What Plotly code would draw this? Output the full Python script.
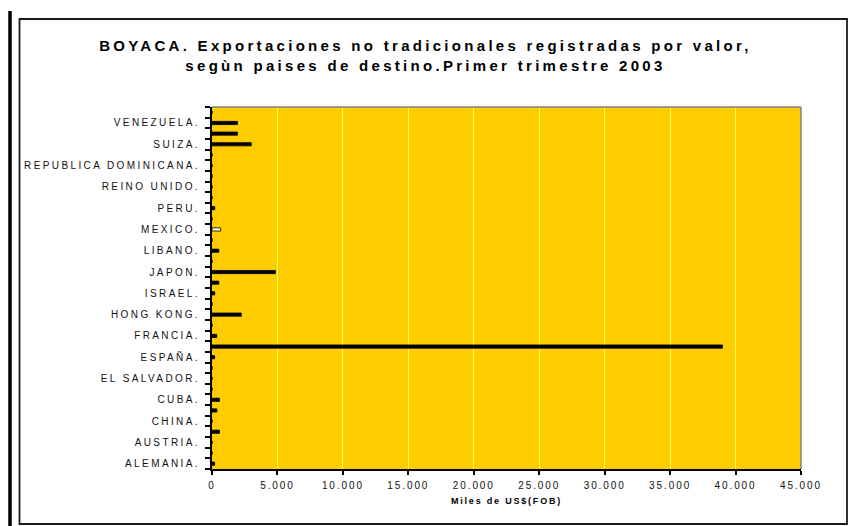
import plotly.graph_objects as go

# Categories, bottom to top (only every other one is labelled on the axis)
paises = [
    "ALEMANIA.", "ARGENTINA.", "AUSTRIA.", "CANADA.", "CHINA.", "COSTA RICA.",
    "CUBA.", "ECUADOR.", "EL SALVADOR.", "EMIRATOS ARABES.", "ESPAÑA.",
    "ESTADOS UNIDOS.", "FRANCIA.", "GUATEMALA.", "HONG KONG.", "INDIA.",
    "ISRAEL.", "ITALIA.", "JAPON.", "KUWAIT.", "LIBANO.", "MALASIA.",
    "MEXICO.", "PANAMA.", "PERU.", "PUERTO RICO.", "REINO UNIDO.",
    "REPUBLICA CHECA.", "REPUBLICA DOMINICANA.", "SUECIA.", "SUIZA.",
    "TAIWAN.", "VENEZUELA.", "ZONA FRANCA.",
]
# Miles de US$ (FOB)
valores = [
    200, 0, 0, 570, 0, 370,
    570, 0, 0, 0, 200,
    39000, 360, 0, 2240, 0,
    210, 520, 4840, 0, 520, 0,
    660, 0, 210, 0, 0,
    0, 0, 0, 3000,
    1950, 1950, 0,
]
# every other category is left unlabelled, as in the original chart
ocultas = {p: " " for i, p in enumerate(paises) if i % 2 == 1}
colores = ["#FFFFCC" if p == "MEXICO." else "#000000" for p in paises]
x_ticks = [0, 5000, 10000, 15000, 20000, 25000, 30000, 35000, 40000, 45000]

titulo = ("BOYACA. Exportaciones no tradicionales registradas por valor,<br>"
          "segùn paises de destino.Primer trimestre 2003")
x_titulo = "Miles de US$(FOB)"

FONT = "Liberation Sans, Arial, sans-serif"
n = len(paises)

fig = go.Figure()
fig.add_trace(go.Bar(
    x=valores, y=paises, orientation="h",
    marker=dict(color=colores, line=dict(color="#000000", width=0.8)),
    width=0.3, showlegend=False, hoverinfo="x+y",
))

fig.update_layout(
    width=851, height=526,
    paper_bgcolor="#FFFFFF", plot_bgcolor="#FFCC00",
    margin=dict(l=212, r=50, t=107, b=57, autoexpand=False),
    separators=",.",
    font=dict(family=FONT, color="#000000"),
    title=dict(
        text=titulo, x=0.5, xanchor="center", xref="container",
        y=1 - 51 / 526, yanchor="middle", yref="container",
        font=dict(family=FONT, size=15, color="#000000", weight="bold"),
    ),
    xaxis=dict(
        range=[0, 45000], tickmode="array", tickvals=x_ticks,
        tickformat=",d", showgrid=True, gridcolor="#FFFF55", gridwidth=1,
        zeroline=False, showline=True, linecolor="#000000", linewidth=2,
        ticks="outside", ticklen=4, tickwidth=2, tickcolor="#000000",
        tickfont=dict(family=FONT, size=10, color="#111111"),
        ticklabelstandoff=2, automargin=False, fixedrange=True,
        title=dict(text=x_titulo, standoff=8,
                   font=dict(family=FONT, size=9, color="#000000", weight="bold")),
    ),
    yaxis=dict(
        type="category", categoryorder="array", categoryarray=paises,
        range=[-0.5, n - 0.5],
        tickmode="linear", tick0=0, dtick=1, labelalias=ocultas,
        tickson="boundaries", ticks="outside", ticklen=5, tickwidth=2,
        tickcolor="#000000", showgrid=False, zeroline=False,
        showline=True, linecolor="#000000", linewidth=2,
        tickfont=dict(family=FONT, size=10, color="#111111"),
        ticklabelstandoff=8, automargin=False, fixedrange=True,
    ),
    bargap=0.7,
)

# plot area border (top/right grey)
fig.add_shape(type="line", xref="paper", yref="paper", x0=0, x1=1, y0=1, y1=1,
              line=dict(color="#808080", width=1.5), layer="above")
fig.add_shape(type="line", xref="paper", yref="paper", x0=1, x1=1, y0=0, y1=1,
              line=dict(color="#808080", width=1.5), layer="above")
# chart frame
fig.add_shape(type="rect", xref="paper", yref="paper",
              x0=(19.5 - 212) / 589, x1=(847 - 212) / 589,
              y0=(469 - 524) / 362, y1=(469 - 19) / 362,
              line=dict(color="#1a1a1a", width=1.8), fillcolor="rgba(0,0,0,0)",
              layer="below")
# thick vertical rule at far left
fig.add_shape(type="line", xref="paper", yref="paper",
              x0=(10 - 212) / 589, x1=(10 - 212) / 589,
              y0=(469 - 530) / 362, y1=(469 - 11) / 362,
              line=dict(color="#000000", width=3.5), layer="below")

post = """
document.documentElement.style.margin='0';
document.body.style.margin='0';
document.body.style.padding='0';
var gd = document.getElementById('{plot_id}');
function sp(){
  gd.querySelectorAll('.gtitle').forEach(function(e){e.style.letterSpacing='3.3px';});
  gd.querySelectorAll('.ytick text').forEach(function(e){e.style.letterSpacing='2.4px';});
  gd.querySelectorAll('.xtick text').forEach(function(e){e.style.letterSpacing='1.9px';});
  gd.querySelectorAll('.xtitle').forEach(function(e){e.style.letterSpacing='1.8px';});
}
sp();
if (gd.on) { gd.on('plotly_afterplot', sp); }
setTimeout(sp, 0); setTimeout(sp, 200);
"""

fig.write_html("out.html", post_script=post, config={"displayModeBar": False})
